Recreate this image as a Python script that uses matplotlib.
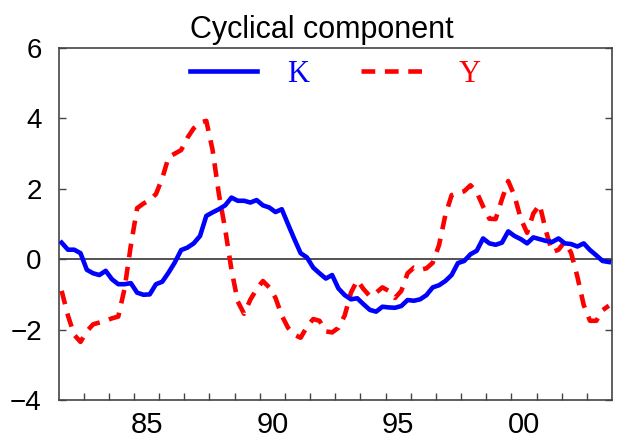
import numpy as np
import matplotlib
matplotlib.use("Agg")
import matplotlib.pyplot as plt
from matplotlib.ticker import FixedLocator, NullFormatter

# quarterly sample, 1982Q1 .. 2003Q4 (88 obs)
start_year = 1982
n_obs = 88

# capital stock, cyclical component
k_cycle = [
    0.47, 0.27, 0.27, 0.17, -0.30, -0.40, -0.45, -0.33, -0.57, -0.71,
    -0.71, -0.68, -0.95, -1.01, -1.00, -0.71, -0.64, -0.38, -0.09, 0.26,
    0.33, 0.45, 0.66, 1.23, 1.33, 1.42, 1.53, 1.75, 1.66, 1.66,
    1.61, 1.68, 1.53, 1.47, 1.34, 1.42, 0.99, 0.57, 0.17, 0.05,
    -0.24, -0.40, -0.55, -0.45, -0.83, -1.02, -1.14, -1.11, -1.28, -1.44,
    -1.49, -1.35, -1.37, -1.38, -1.33, -1.16, -1.18, -1.14, -1.02, -0.80,
    -0.74, -0.62, -0.45, -0.11, -0.05, 0.14, 0.24, 0.59, 0.45, 0.41,
    0.47, 0.79, 0.66, 0.57, 0.45, 0.62, 0.57, 0.52, 0.49, 0.59,
    0.45, 0.43, 0.36, 0.45, 0.26, 0.11, -0.05, -0.08,
]

# output, cyclical component
y_cycle = [
    -0.90, -1.60, -2.15, -2.35, -2.05, -1.85, -1.80, -1.75, -1.68, -1.63,
    -0.84, 0.39, 1.45, 1.58, 1.68, 1.85, 2.30, 2.90, 3.00, 3.10,
    3.45, 3.72, 3.88, 3.93, 3.10, 1.85, 0.85, -0.30, -1.20, -1.55,
    -1.15, -0.85, -0.62, -0.80, -1.10, -1.60, -1.95, -2.15, -2.23, -1.92,
    -1.70, -1.75, -2.05, -2.08, -1.95, -1.60, -0.95, -0.60, -0.85, -1.05,
    -0.95, -0.80, -0.90, -1.10, -0.90, -0.40, -0.24, -0.30, -0.26, -0.10,
    0.40, 1.25, 1.82, 1.88, 1.93, 2.10, 1.90, 1.50, 1.15, 1.14,
    1.70, 2.22, 1.80, 1.15, 0.75, 1.30, 1.55, 0.80, 0.20, 0.27,
    0.50, 0.18, -0.50, -1.30, -1.75, -1.75, -1.45, -1.32,
]

year_labels = ["85", "90", "95", "00"]
label_years = [1985, 1990, 1995, 2000]
y_ticks = [-4, -2, 0, 2, 4, 6]

# each quarter plotted at its mid point
t = start_year + (np.arange(n_obs) + 0.5) / 4.0

plt.rcParams["font.family"] = ["Liberation Sans", "DejaVu Sans"]

fig = plt.figure(figsize=(6.25, 4.41), dpi=100)
ax = fig.add_axes([58.5 / 625, 1 - 400 / 441, (612 - 58.5) / 625, (400 - 48) / 441])

ax.axhline(0, color="#444444", lw=1.3, zorder=1)
ax.plot(t, k_cycle, color="#0000ff", lw=3.3, label="K", zorder=3)
ax.plot(t, y_cycle, color="#ff0000", lw=3.3, ls=(0, (3.0, 2.1)), label="Y", zorder=2)

ax.set_xlim(start_year, start_year + n_obs / 4)
ax.set_ylim(-4, 6)

# y axis: inward ticks on both sides, labels on the left only
ax.set_yticks(y_ticks)
ax.tick_params(axis="y", direction="in", length=5, width=1, color="#444444",
               left=True, right=True, labelsize=20, pad=12)

# x axis: small inward year ticks, labels centred mid-year
ax.xaxis.set_minor_locator(FixedLocator(np.arange(start_year + 1, start_year + n_obs // 4)))
ax.xaxis.set_minor_formatter(NullFormatter())
ax.set_xticks([yr + 0.5 for yr in label_years])
ax.set_xticklabels(year_labels)
ax.tick_params(axis="x", which="major", length=0, labelsize=21, pad=8)
ax.tick_params(axis="x", which="minor", direction="in", length=5, width=1,
               color="#444444", top=False)

for sp in ax.spines.values():
    sp.set_color("#444444")
    sp.set_linewidth(1.2)

leg = ax.legend(loc="upper center", bbox_to_anchor=(0.5, 1.045), ncol=2, frameon=False,
                handlelength=2.2, handletextpad=1.0, columnspacing=1.7,
                labelcolor="linecolor",
                prop={"family": "Liberation Serif", "size": 22})

fig.text(0.515, 1 - 38 / 441, "Cyclical component", ha="center", va="baseline",
         fontsize=22)

fig.savefig("out.png", dpi=100)
